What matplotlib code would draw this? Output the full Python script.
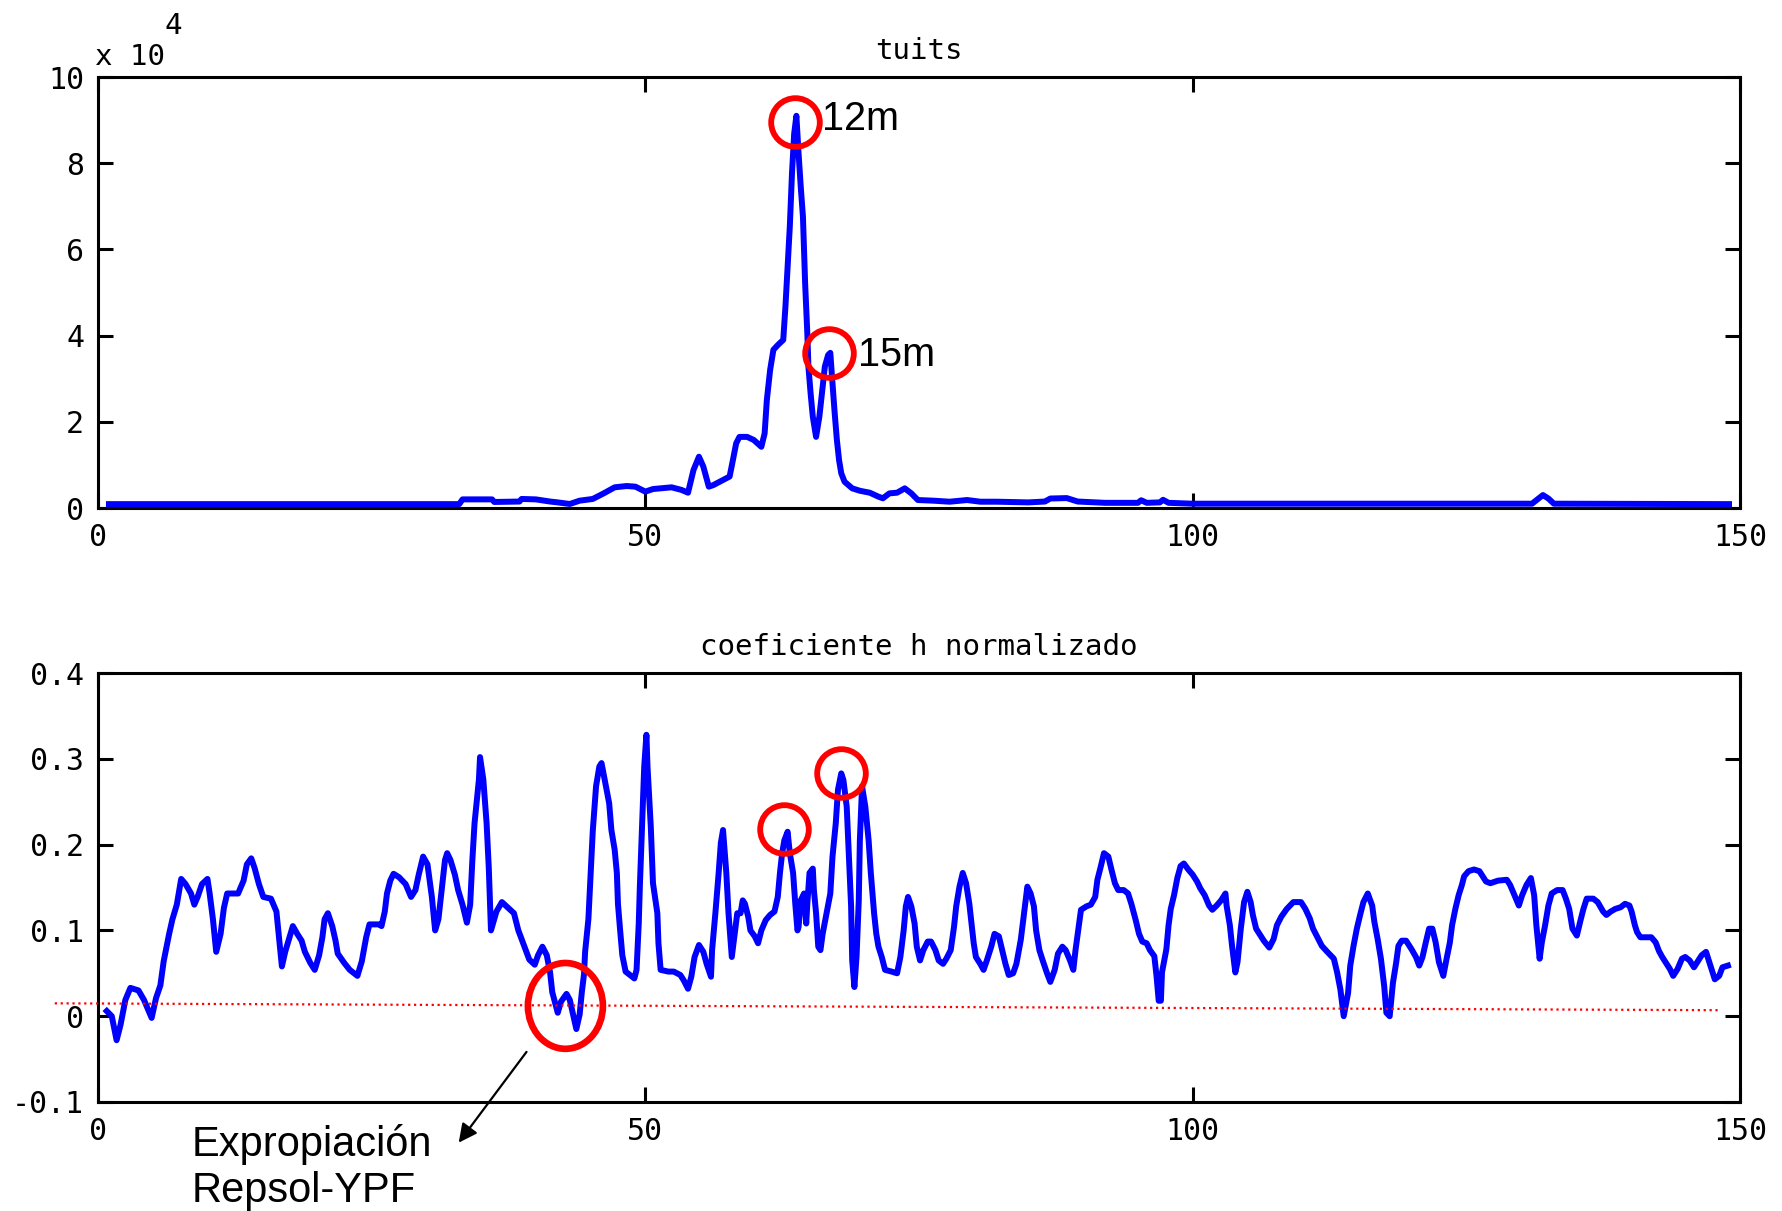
import matplotlib
matplotlib.use('Agg')
import matplotlib.pyplot as plt
from matplotlib.patches import Ellipse

plt.rcParams['font.family'] = 'DejaVu Sans Mono'

# tuits (top panel)
tuits_x = [1, 33.0, 33.3, 36.0, 36.2, 38.5, 38.7, 40.0, 41.3, 42.0,
           43.1, 44.0, 45.2, 46.2, 47.2, 48.3, 49.1, 50.0, 50.7, 52.4,
           53.3, 53.9, 54.4, 54.9, 55.3, 55.8, 56.2, 57.1, 57.7, 58.0,
           58.3, 58.6, 59.3, 59.9, 60.6, 60.9, 61.1, 61.4, 61.7, 62.1,
           62.6, 62.8, 63.0, 63.2, 63.4, 63.6, 63.8, 64.0, 64.2, 64.4,
           64.6, 64.8, 64.9, 65.1, 65.3, 65.6, 65.9, 66.2, 66.4, 66.7,
           66.9, 67.1, 67.3, 67.5, 67.7, 67.9, 68.2, 68.9, 69.6, 70.5,
           71.3, 71.7, 72.3, 73.0, 73.7, 74.3, 74.9, 76.3, 77.8, 79.4,
           80.6, 82.1, 85.0, 86.5, 87.0, 88.5, 89.5, 92.0, 95.0, 95.3,
           95.8, 97.0, 97.3, 97.8, 100.0, 131.0, 131.6, 132.0, 132.5, 133.0,
           149.0]
tuits_y = [900, 900, 2000, 2000, 1400, 1500, 2100, 2000, 1500, 1300,
           930, 1700, 2100, 3400, 4800, 5100, 4950, 3800, 4400, 4800,
           4200, 3550, 8800, 11900, 9600, 4950, 5300, 6500, 7300, 11100,
           15000, 16500, 16500, 15800, 14200, 17300, 25000, 32000, 36700, 37800,
           39000, 46700, 56000, 65300, 77700, 86900, 91000, 82300, 74500, 67600,
           52100, 40500, 32800, 26600, 21200, 16500, 21200, 28100, 32800, 35500,
           36000, 28900, 22000, 15800, 11100, 8050, 6100, 4560, 4000, 3550,
           2630, 2250, 3400, 3550, 4560, 3400, 1850, 1700, 1460, 1850,
           1460, 1460, 1300, 1500, 2200, 2300, 1500, 1200, 1200, 1800,
           1200, 1300, 1900, 1200, 1000, 1000, 2200, 3000, 2200, 1000,
           900]

# coeficiente h normalizado (bottom panel)
h_x = [0.8, 1.26, 1.7, 2.06, 2.5, 2.96, 3.7, 4.2, 4.9, 5.3,
       5.7, 6.0, 6.5, 6.8, 7.2, 7.6, 8.0, 8.5, 8.8, 9.1,
       9.5, 10.0, 10.2, 10.5, 10.8, 11.2, 11.5, 11.8, 12.8, 13.3,
       13.6, 14.0, 14.3, 14.7, 15.1, 15.8, 16.3, 16.5, 16.8, 17.1,
       17.4, 17.8, 18.2, 18.6, 18.9, 19.4, 19.8, 20.2, 20.5, 20.7,
       21.0, 21.4, 21.7, 21.9, 22.5, 23.0, 23.7, 24.1, 24.5, 24.8,
       25.7, 25.9, 26.2, 26.4, 26.7, 27.0, 27.5, 28.1, 28.6, 29.0,
       29.3, 29.7, 30.1, 30.5, 30.8, 31.1, 31.4, 31.7, 31.9, 32.2,
       32.6, 32.9, 33.3, 33.7, 34.0, 34.2, 34.4, 34.8, 34.9, 35.2,
       35.5, 35.7, 35.9, 36.4, 36.9, 37.5, 38.0, 38.4, 38.9, 39.4,
       39.9, 40.2, 40.6, 41.0, 41.3, 41.5, 42.0, 42.3, 42.8, 43.1,
       43.4, 43.7, 44.0, 44.2, 44.4, 44.5, 44.8, 45.0, 45.2, 45.5,
       45.8, 46.0, 46.3, 46.7, 46.9, 47.2, 47.4, 47.5, 47.7, 47.9,
       48.2, 48.6, 49.0, 49.2, 49.4, 49.5, 49.7, 49.9, 50.1, 50.2,
       50.5, 50.7, 51.1, 51.2, 51.4, 52.1, 52.6, 53.2, 53.5, 53.9,
       54.2, 54.5, 54.9, 55.3, 55.6, 56.0, 56.1, 56.4, 56.7, 56.9,
       57.1, 57.4, 57.6, 57.9, 58.2, 58.4, 58.7, 58.9, 59.1, 59.4,
       59.6, 60.0, 60.3, 60.6, 61.0, 61.4, 61.8, 62.1, 62.3, 62.5,
       62.7, 63.0, 63.2, 63.5, 63.7, 63.9, 64.0, 64.2, 64.5, 64.7,
       64.8, 65.0, 65.3, 65.4, 65.6, 65.8, 66.0, 66.2, 66.5, 66.9,
       67.1, 67.4, 67.6, 67.9, 68.1, 68.4, 68.6, 68.8, 68.9, 69.1,
       69.3, 69.5, 69.6, 69.8, 70.1, 70.4, 70.6, 70.9, 71.1, 71.3,
       71.6, 71.9, 72.5, 73.0, 73.3, 73.6, 73.8, 74.0, 74.3, 74.6,
       74.8, 75.1, 75.4, 75.8, 76.1, 76.5, 76.8, 77.2, 77.5, 77.9,
       78.2, 78.4, 78.7, 79.0, 79.3, 79.6, 79.8, 80.0, 80.2, 80.6,
       80.9, 81.2, 81.6, 81.9, 82.3, 82.6, 82.9, 83.2, 83.6, 83.9,
       84.3, 84.6, 84.9, 85.2, 85.5, 85.7, 86.0, 86.3, 86.7, 87.0,
       87.4, 87.7, 88.1, 88.4, 88.8, 89.1, 89.3, 89.5, 89.8, 90.3,
       90.7, 91.1, 91.3, 91.6, 91.9, 92.3, 92.6, 92.9, 93.2, 93.7,
       94.1, 94.4, 94.8, 95.1, 95.4, 95.8, 96.1, 96.5, 96.7, 96.9,
       97.1, 97.2, 97.6, 97.8, 98.0, 98.3, 98.6, 98.9, 99.2, 99.6,
       100.0, 100.4, 100.7, 101.1, 101.5, 101.8, 102.2, 102.6, 103.0, 103.1,
       103.4, 103.6, 103.9, 104.1, 104.4, 104.7, 105.0, 105.3, 105.5, 105.8,
       106.2, 106.5, 107.0, 107.4, 107.7, 108.1, 108.6, 109.2, 109.9, 110.3,
       110.7, 111.0, 111.4, 111.8, 112.3, 112.9, 113.2, 113.5, 113.8, 114.2,
       114.4, 114.7, 115.0, 115.3, 115.6, 116.0, 116.4, 116.6, 116.9, 117.2,
       117.5, 117.7, 118.0, 118.3, 118.6, 118.8, 119.1, 119.5, 120.0, 120.4,
       120.7, 121.0, 121.3, 121.6, 121.9, 122.2, 122.5, 122.9, 123.2, 123.5,
       123.7, 124.0, 124.3, 124.6, 124.8, 125.2, 125.7, 126.2, 126.5, 126.8,
       127.2, 127.9, 128.7, 129.0, 129.4, 129.8, 130.1, 130.5, 130.9, 131.2,
       131.4, 131.7, 131.9, 132.2, 132.5, 132.8, 133.3, 133.8, 134.1, 134.4,
       134.7, 135.1, 135.4, 135.7, 136.0, 136.6, 137.0, 137.5, 137.8, 138.2,
       138.6, 139.1, 139.5, 139.9, 140.1, 140.4, 140.6, 140.9, 141.4, 141.9,
       142.3, 142.6, 142.9, 143.2, 143.6, 143.9, 144.3, 144.7, 145.0, 145.4,
       145.8, 146.1, 146.5, 146.9, 147.1, 147.4, 147.7, 148.1, 148.4, 148.9]
h_y = [0.006, 0.0, -0.028, -0.01, 0.019, 0.033, 0.03, 0.019, -0.002, 0.021,
       0.036, 0.064, 0.096, 0.113, 0.13, 0.16, 0.154, 0.143, 0.13, 0.139,
       0.154, 0.16, 0.143, 0.113, 0.075, 0.096, 0.126, 0.143, 0.143, 0.158,
       0.177, 0.184, 0.173, 0.154, 0.139, 0.137, 0.122, 0.096, 0.058, 0.075,
       0.088, 0.105, 0.096, 0.088, 0.075, 0.062, 0.054, 0.071, 0.092, 0.113,
       0.12, 0.105, 0.088, 0.073, 0.062, 0.054, 0.047, 0.064, 0.092, 0.107,
       0.107, 0.105, 0.122, 0.143, 0.158, 0.166, 0.162, 0.154, 0.139, 0.147,
       0.165, 0.186, 0.177, 0.139, 0.1, 0.113, 0.147, 0.182, 0.19, 0.182,
       0.165, 0.147, 0.13, 0.109, 0.13, 0.182, 0.225, 0.276, 0.302, 0.276,
       0.225, 0.173, 0.1, 0.122, 0.133, 0.126, 0.12, 0.1, 0.083, 0.066,
       0.06, 0.071, 0.081, 0.071, 0.051, 0.028, 0.004, 0.017, 0.026, 0.019,
       0.002, -0.015, 0.002, 0.028, 0.049, 0.075, 0.113, 0.165, 0.216, 0.268,
       0.291, 0.295, 0.275, 0.248, 0.217, 0.194, 0.167, 0.131, 0.1, 0.071,
       0.052, 0.048, 0.044, 0.054, 0.108, 0.151, 0.221, 0.291, 0.328, 0.291,
       0.221, 0.155, 0.12, 0.085, 0.054, 0.052, 0.052, 0.048, 0.042, 0.032,
       0.046, 0.069, 0.083, 0.075, 0.061, 0.046, 0.077, 0.12, 0.167, 0.202,
       0.217, 0.167, 0.12, 0.069, 0.1, 0.12, 0.12, 0.135, 0.131, 0.116,
       0.1, 0.093, 0.085, 0.1, 0.112, 0.118, 0.122, 0.139, 0.167, 0.19,
       0.205, 0.215, 0.19, 0.167, 0.131, 0.1, 0.104, 0.135, 0.143, 0.108,
       0.131, 0.167, 0.172, 0.147, 0.12, 0.081, 0.077, 0.096, 0.116, 0.143,
       0.186, 0.225, 0.264, 0.283, 0.275, 0.244, 0.186, 0.128, 0.065, 0.034,
       0.07, 0.135, 0.205, 0.268, 0.244, 0.205, 0.167, 0.12, 0.096, 0.081,
       0.069, 0.054, 0.052, 0.05, 0.069, 0.1, 0.128, 0.139, 0.128, 0.108,
       0.081, 0.065, 0.077, 0.087, 0.087, 0.077, 0.065, 0.061, 0.067, 0.077,
       0.104, 0.128, 0.151, 0.167, 0.155, 0.131, 0.108, 0.085, 0.069, 0.061,
       0.054, 0.065, 0.081, 0.096, 0.093, 0.077, 0.061, 0.048, 0.05, 0.061,
       0.089, 0.12, 0.151, 0.143, 0.128, 0.1, 0.077, 0.065, 0.05, 0.04,
       0.054, 0.073, 0.081, 0.077, 0.065, 0.054, 0.077, 0.096, 0.124, 0.128,
       0.13, 0.139, 0.159, 0.174, 0.19, 0.186, 0.17, 0.155, 0.147, 0.147,
       0.143, 0.131, 0.112, 0.096, 0.087, 0.085, 0.077, 0.07, 0.047, 0.018,
       0.018, 0.051, 0.078, 0.106, 0.125, 0.141, 0.161, 0.175, 0.178, 0.171,
       0.165, 0.157, 0.149, 0.141, 0.129, 0.124, 0.129, 0.135, 0.143, 0.129,
       0.106, 0.082, 0.051, 0.063, 0.102, 0.133, 0.145, 0.133, 0.118, 0.102,
       0.094, 0.088, 0.08, 0.09, 0.106, 0.116, 0.125, 0.133, 0.133, 0.125,
       0.114, 0.102, 0.092, 0.082, 0.075, 0.067, 0.051, 0.031, 0.0, 0.027,
       0.059, 0.082, 0.102, 0.118, 0.133, 0.143, 0.129, 0.11, 0.09, 0.067,
       0.035, 0.004, 0.0, 0.039, 0.063, 0.082, 0.088, 0.088, 0.078, 0.069,
       0.059, 0.069, 0.086, 0.102, 0.102, 0.086, 0.063, 0.047, 0.067, 0.086,
       0.106, 0.125, 0.141, 0.153, 0.163, 0.169, 0.171, 0.169, 0.163, 0.157,
       0.155, 0.158, 0.159, 0.153, 0.141, 0.129, 0.141, 0.153, 0.161, 0.141,
       0.106, 0.067, 0.086, 0.106, 0.129, 0.143, 0.147, 0.147, 0.137, 0.125,
       0.102, 0.094, 0.11, 0.125, 0.137, 0.137, 0.133, 0.122, 0.118, 0.122,
       0.125, 0.127, 0.131, 0.129, 0.122, 0.106, 0.098, 0.092, 0.092, 0.092,
       0.086, 0.076, 0.069, 0.063, 0.055, 0.047, 0.055, 0.067, 0.069, 0.065,
       0.057, 0.063, 0.071, 0.075, 0.067, 0.055, 0.043, 0.047, 0.057, 0.059]

x_ticks = [0, 50, 100, 150]
tuits_ticks = [0, 20000, 40000, 60000, 80000, 100000]
tuits_tick_labels = ['0', '2', '4', '6', '8', '10']
h_ticks = [-0.1, 0, 0.1, 0.2, 0.3, 0.4]
h_tick_labels = ['-0.1', '0', '0.1', '0.2', '0.3', '0.4']

# marked points
top_marks_x = [63.7, 66.8]
top_marks_y = [89500, 36000]
top_marks_text = ['12m', '15m']
h_marks_x = [62.7, 67.85]
h_marks_y = [0.218, 0.284]
event_x, event_y = 42.7, 0.012
zero_line_x = [-3.95, 148.2]
zero_line_y = [0.015, 0.007]

blue = (0, 0, 1)
red = (1, 0, 0)
fs = 21


def style(ax, yticks, ylabels, ylim):
    ax.set_xlim(0, 150)
    ax.set_ylim(*ylim)
    ax.set_xticks(x_ticks)
    ax.set_xticklabels([str(t) for t in x_ticks])
    ax.set_yticks(yticks)
    ax.set_yticklabels(ylabels)
    ax.tick_params(direction='in', length=10.8, width=2.2, top=True, right=True,
                   labelsize=21.5)
    ax.tick_params(axis='x', pad=11)
    ax.tick_params(axis='y', pad=10)
    for s in ax.spines.values():
        s.set_linewidth(2.2)


fig = plt.figure(figsize=(17.83, 12.11), dpi=100)
ax1 = fig.add_axes([0.05496, 0.58051, 0.9209, 0.3559])
ax2 = fig.add_axes([0.05496, 0.09001, 0.9209, 0.35425])

# top: tuits
ax1.plot(tuits_x, tuits_y, color=blue, lw=4.3)
style(ax1, tuits_ticks, tuits_tick_labels, (0, 100000))
ax1.set_title('tuits', fontsize=fs, pad=13)
ax1.plot(top_marks_x, top_marks_y, 'o', ms=35, mfc='none', mec=red, mew=4.2,
         clip_on=False, zorder=5)
ax1.text(66.1, 87700, top_marks_text[0], family='Liberation Sans', fontsize=28.5)
ax1.text(69.45, 32900, top_marks_text[1], family='Liberation Sans', fontsize=28.5)
fig.text(0.0533, 0.9463, 'x 10', fontsize=fs)
fig.text(0.0925, 0.9719, '4', fontsize=fs)

# bottom: h coefficient
ax2.plot(h_x, h_y, color=blue, lw=4.3)
ax2.plot(zero_line_x, zero_line_y, color=red, ls=':', lw=1.6, clip_on=False, zorder=4)
style(ax2, h_ticks, h_tick_labels, (-0.1, 0.4))
ax2.set_title('coeficiente h normalizado', fontsize=fs, pad=13)
ax2.plot(h_marks_x, h_marks_y, 'o', ms=35, mfc='none', mec=red, mew=4.2,
         clip_on=False, zorder=5)
ax2.add_patch(Ellipse((event_x, event_y), 6.85, 0.1, fill=False, ec=red, lw=4.8,
                      zorder=5))
ax2.annotate('', xy=(32.8, -0.15), xytext=(39.3, -0.039),
             arrowprops=dict(arrowstyle='-|>', color='black', lw=1.6,
                             mutation_scale=28),
             annotation_clip=False)
fig.text(0.1074, 0.0454, 'Expropiación', family='Liberation Sans', fontsize=30)
fig.text(0.1074, 0.0074, 'Repsol-YPF', family='Liberation Sans', fontsize=30)

fig.savefig('out.png', dpi=100)
